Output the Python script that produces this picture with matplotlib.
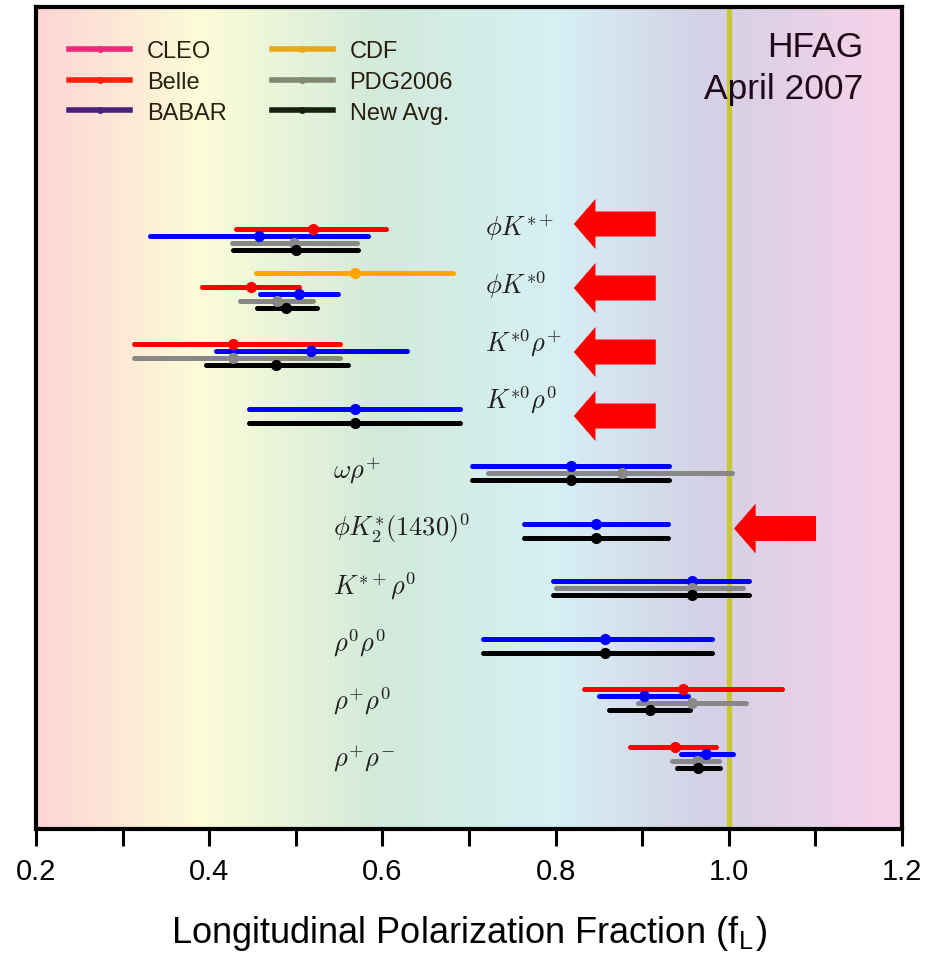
import numpy as np
import matplotlib
matplotlib.use('Agg')
import matplotlib.pyplot as plt
from matplotlib.colors import LinearSegmentedColormap
from matplotlib.lines import Line2D
from matplotlib.patches import FancyArrow

plt.rcParams['mathtext.fontset'] = 'cm'

# ==================== 数据 ====================
decays = [r'$\phi K^{*+}$', r'$\phi K^{*0}$', r'$K^{*0}\rho^{+}$', r'$K^{*0}\rho^{0}$',
          r'$\omega\rho^{+}$', r'$\phi K_2^{*}(1430)^{0}$', r'$K^{*+}\rho^{0}$',
          r'$\rho^{0}\rho^{0}$', r'$\rho^{+}\rho^{0}$', r'$\rho^{+}\rho^{-}$']

nan = np.nan
# 中心值, 下限, 上限
belle_val = [0.520, 0.448, 0.427, nan, nan, nan, nan, nan, 0.947, 0.938]
belle_lo  = [0.431, 0.392, 0.313, nan, nan, nan, nan, nan, 0.833, 0.886]
belle_hi  = [0.604, 0.504, 0.551, nan, nan, nan, nan, nan, 1.061, 0.985]

babar_val = [0.458, 0.504, 0.518, 0.568, 0.818, 0.847, 0.958, 0.857, 0.902, 0.974]
babar_lo  = [0.332, 0.459, 0.408, 0.446, 0.703, 0.764, 0.797, 0.716, 0.850, 0.945]
babar_hi  = [0.583, 0.549, 0.628, 0.690, 0.931, 0.930, 1.023, 0.981, 0.953, 1.005]

cdf_val = [nan, 0.568, nan, nan, nan, nan, nan, nan, nan, nan]
cdf_lo  = [nan, 0.454, nan, nan, nan, nan, nan, nan, nan, nan]
cdf_hi  = [nan, 0.682, nan, nan, nan, nan, nan, nan, nan, nan]

pdg_val = [0.498, 0.478, 0.427, nan, 0.877, nan, 0.958, nan, 0.958, 0.963]
pdg_lo  = [0.426, 0.436, 0.313, nan, 0.722, nan, 0.800, nan, 0.895, 0.934]
pdg_hi  = [0.571, 0.520, 0.551, nan, 1.004, nan, 1.016, nan, 1.020, 0.989]

avg_val = [0.500, 0.489, 0.477, 0.568, 0.818, 0.847, 0.958, 0.857, 0.909, 0.964]
avg_lo  = [0.427, 0.455, 0.396, 0.446, 0.703, 0.764, 0.797, 0.716, 0.862, 0.940]
avg_hi  = [0.572, 0.524, 0.560, 0.690, 0.931, 0.930, 1.023, 0.981, 0.955, 0.990]

# 有"预期"箭头的行和箭头尖端位置
arrow_rows = [0, 1, 2, 3, 5]
arrow_tips = [0.821, 0.821, 0.821, 0.821, 1.006]

# ==================== 样式 ====================
series = [  # (值, 下限, 上限, 颜色, 行内槽位)
    (cdf_val, cdf_lo, cdf_hi, '#FFA500', -2),
    (belle_val, belle_lo, belle_hi, '#FF0000', 0),
    (babar_val, babar_lo, babar_hi, '#0000FF', 1),
    (pdg_val, pdg_lo, pdg_hi, '#888888', 2),
    (avg_val, avg_lo, avg_hi, '#000000', 3),
]
ROW0, ROW_STEP, SLOT = 230, 57.5, 7.0
ARROW0, ARROW_STEP = 225, 64

fig = plt.figure(figsize=(9.32, 9.54), dpi=100)
ax = fig.add_axes([36/932, 124/954, 866/932, 822/954])

# 背景渐变
bg = LinearSegmentedColormap.from_list('bg', [
    (0.0, '#FFD5D5'), (0.19, '#FCFCD8'), (0.395, '#D2EADB'),
    (0.6, '#D6F0F4'), (0.78, '#D4D0E6'), (1.0, '#F8D2EA')])
ax.imshow(np.linspace(0, 1, 400)[None, :], cmap=bg, aspect='auto',
          extent=[0.2, 1.2, 830, 8], zorder=0)

ax.axvline(1.0, color='#C8C830', lw=3.8, zorder=1)

for vals, los, his, col, slot in series:
    for i in range(len(decays)):
        if np.isnan(vals[i]):
            continue
        y = ROW0 + ROW_STEP * i + SLOT * slot
        ax.plot([los[i], his[i]], [y, y], color=col, lw=3.6,
                solid_capstyle='round', zorder=3)
        ax.plot(vals[i], y, 'o', color=col, ms=7, zorder=4)

# 标签
for i, lab in enumerate(decays):
    yc = ROW0 + ROW_STEP * i
    if i < 4:
        ax.text(0.718, yc - 2, lab, fontsize=19, va='center', ha='left', color='#202020')
    else:
        ax.text(0.543, yc + 11, lab, fontsize=19, va='center', ha='left', color='#202020')

# 箭头
for r, tip in zip(arrow_rows, arrow_tips):
    yc = ARROW0 + ARROW_STEP * r if r < 4 else ROW0 + ROW_STEP * r + 12
    ax.add_patch(FancyArrow(tip + 0.0947, yc, -0.0947, 0, width=25, head_width=50,
                            head_length=0.025, length_includes_head=True,
                            color='#FF0000', lw=0, zorder=5))

ax.text(0.955, 0.972, 'HFAG\nApril 2007', transform=ax.transAxes, ha='right', va='top',
        fontsize=25.5, family='Liberation Sans', color='#200818', linespacing=1.35)

# 图例
leg_labels = ['CLEO', 'Belle', 'BABAR', 'CDF', 'PDG2006', 'New Avg.']
leg_colors = ['#F0287A', '#FF2010', '#4A2078', '#E8A818', '#808870', '#182010']
handles = [Line2D([], [], color=c, lw=4, marker='o', ms=4) for c in leg_colors]
leg = ax.legend(handles, leg_labels, ncol=2, loc='upper left', bbox_to_anchor=(0.0, 1.0),
                frameon=False, handlelength=2.6, handletextpad=0.7,
                columnspacing=1.9, labelspacing=0.37, borderpad=0.9,
                prop={'family': 'Liberation Sans', 'size': 17})
for t in leg.get_texts():
    t.set_color('#2a2010')

ax.set_xlim(0.2, 1.2)
ax.set_ylim(830, 8)
ax.set_yticks([])
ticks = np.round(np.arange(0.2, 1.21, 0.1), 1)
ax.set_xticks(ticks)
ax.set_xticklabels([f'{t:.1f}' if round(t * 10) % 2 == 0 else '' for t in ticks],
                   family='Liberation Sans', fontsize=21)
ax.tick_params(axis='x', direction='out', length=12, width=2.2, pad=8)
for s in ax.spines.values():
    s.set_linewidth(3)
ax.set_xlabel(r'Longitudinal Polarization Fraction (f$_{\mathregular{L}}$)',
              family='Liberation Sans', fontsize=26, labelpad=20)

fig.savefig('out.png', dpi=100)
